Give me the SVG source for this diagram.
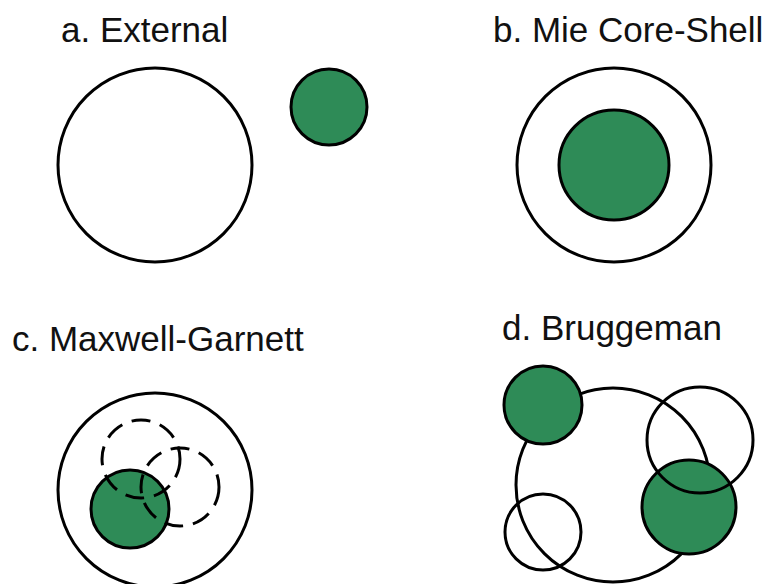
<svg xmlns="http://www.w3.org/2000/svg" width="763" height="584" viewBox="0 0 763 584">
<style>
text{font-family:"Liberation Sans",Arial,sans-serif;font-size:35px;fill:#111}
.o{fill:none;stroke:#000;stroke-width:3}
.w{fill:#fff;stroke:#000;stroke-width:3}
.g{fill:#2e8b57;stroke:#000;stroke-width:3}
.d{fill:none;stroke:#000;stroke-width:3;stroke-dasharray:19 10}
</style>
<rect width="763" height="584" fill="#fff"/>
<g id="panel-a">
<text x="61" y="42">a. External</text>
<circle class="w" cx="155" cy="165" r="97"/>
<circle class="g" cx="329" cy="107" r="38"/>
</g>
<g id="panel-b">
<text x="493" y="42">b. Mie Core-Shell</text>
<circle class="w" cx="614" cy="165" r="97"/>
<circle class="g" cx="614" cy="165" r="55"/>
</g>
<g id="panel-c">
<text x="12" y="351">c. Maxwell-Garnett</text>
<circle class="w" cx="155" cy="490" r="97"/>
<circle class="g" cx="130" cy="509" r="39"/>
<circle class="d" cx="141" cy="459" r="39"/>
<circle class="d" cx="180" cy="487" r="39"/>
</g>
<g id="panel-d">
<text x="502" y="340">d. Bruggeman</text>
<circle class="o" cx="613" cy="485" r="97"/>
<circle class="g" cx="543" cy="405" r="39"/>
<circle class="g" cx="689" cy="507" r="47"/>
<circle class="o" cx="700" cy="440" r="53"/>
<circle class="o" cx="543" cy="532" r="38"/>
</g>
</svg>
